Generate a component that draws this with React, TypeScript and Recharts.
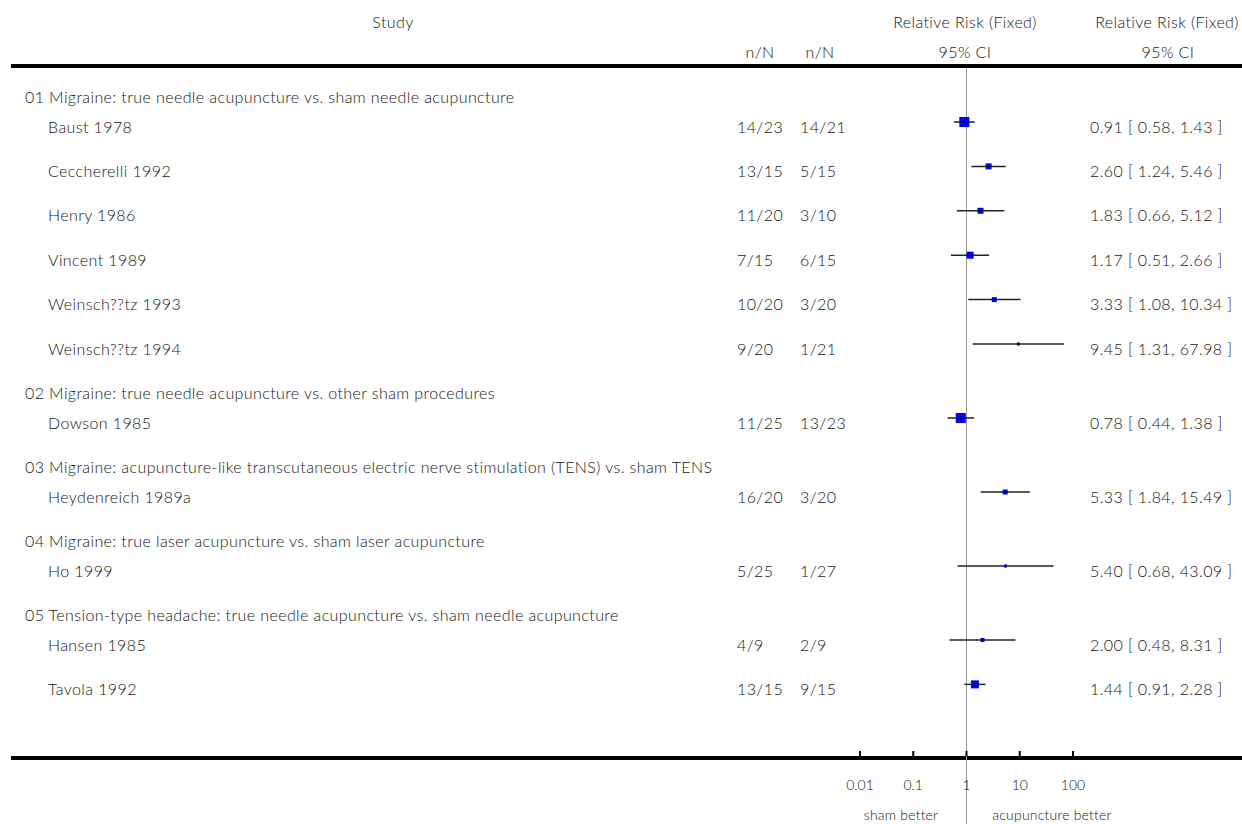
import { ScatterChart, Scatter, XAxis, YAxis, ErrorBar, ReferenceLine } from 'recharts';

const groupTitles = [
  '01 Migraine: true needle acupuncture vs. sham needle acupuncture',
  '02 Migraine: true needle acupuncture vs. other sham procedures',
  '03 Migraine: acupuncture-like transcutaneous electric nerve stimulation (TENS) vs. sham TENS',
  '04 Migraine: true laser acupuncture vs. sham laser acupuncture',
  '05 Tension-type headache: true needle acupuncture vs. sham needle acupuncture',
];

const studyNames = [
  'Baust 1978', 'Ceccherelli 1992', 'Henry 1986', 'Vincent 1989', 'Weinsch??tz 1993', 'Weinsch??tz 1994',
  'Dowson 1985', 'Heydenreich 1989a', 'Ho 1999', 'Hansen 1985', 'Tavola 1992',
];
const studyGroup = [0, 0, 0, 0, 0, 0, 1, 2, 3, 4, 4];
const treatEvents = [14, 13, 11, 7, 10, 9, 11, 16, 5, 4, 13];
const treatTotal = [23, 15, 20, 15, 20, 20, 25, 20, 25, 9, 15];
const shamEvents = [14, 5, 3, 6, 3, 1, 13, 3, 1, 2, 9];
const shamTotal = [21, 15, 10, 15, 20, 21, 23, 20, 27, 9, 15];
const riskRatio = [0.91, 2.6, 1.83, 1.17, 3.33, 9.45, 0.78, 5.33, 5.4, 2.0, 1.44];
const ciLow = [0.58, 1.24, 0.66, 0.51, 1.08, 1.31, 0.44, 1.84, 0.68, 0.48, 0.91];
const ciHigh = [1.43, 5.46, 5.12, 2.66, 10.34, 67.98, 1.38, 15.49, 43.09, 8.31, 2.28];
const weights = [21.3, 7.7, 7.7, 10.4, 5.3, 1.9, 21.3, 5.3, 1.9, 3.4, 13.6];

const axisTicks = [0.01, 0.1, 1, 10, 100];
const axisTickLabels = ['0.01', '0.1', '1', '10', '100'];

const FONT = 'Lato, "Open Sans", sans-serif';
const TEXT = '#151515';

// line layout: header, 2 lines gap to first study, 3 lines between rows
const headerRows: any[] = [];
const studyRows: any[] = [];
let line = 0;
groupTitles.forEach((title, g) => {
  headerRows.push({ x: 1, line, title });
  line += 2;
  studyNames.forEach((name, i) => {
    if (studyGroup[i] !== g) return;
    studyRows.push({
      name,
      line,
      x: riskRatio[i],
      err: [riskRatio[i] - ciLow[i], ciHigh[i] - riskRatio[i]],
      weight: weights[i],
      treat: `${treatEvents[i]}/${treatTotal[i]}`,
      sham: `${shamEvents[i]}/${shamTotal[i]}`,
      label: `${riskRatio[i].toFixed(2)} [ ${ciLow[i].toFixed(2)}, ${ciHigh[i].toFixed(2)} ]`,
    });
    line += 3;
  });
});

const yDomain = [-1.649, 44.84];

const txt = { fontFamily: FONT, fontSize: 16, fontWeight: 300, letterSpacing: 0.4, fill: TEXT };

const StudyShape = (props: any) => {
  const { cx, cy, payload } = props;
  const s = Math.sqrt(payload.weight) * 2.17;
  const ty = cy + 5;
  return (
    <g>
      <text x={48} y={ty} dy="0.35em" {...txt}>{payload.name}</text>
      <text x={737} y={ty} dy="0.35em" {...txt}>{payload.treat}</text>
      <text x={800} y={ty} dy="0.35em" {...txt}>{payload.sham}</text>
      <text x={1090} y={ty} dy="0.35em" {...txt}>{payload.label}</text>
      <rect x={cx - s / 2} y={cy - s / 2} width={s} height={s} fill="#0000ff" />
      <line x1={cx - s / 2} x2={cx + s / 2} y1={cy} y2={cy} stroke="#111" strokeWidth={0.8} />
      <line x1={cx} x2={cx} y1={cy - 1.5} y2={cy + 1.5} stroke="#111" strokeWidth={0.8} />
    </g>
  );
};

const HeaderShape = (props: any) => {
  const { cy, payload } = props;
  return (
    <text x={25} y={cy + 5} dy="0.35em" {...txt}>{payload.title}</text>
  );
};

const AxisTick = (props: any) => {
  const { x, y, payload } = props;
  const label = axisTickLabels[axisTicks.indexOf(payload.value)];
  return (
    <g>
      <line x1={x} x2={x} y1={y - 5} y2={y} stroke="#000" strokeWidth={2} />
      <text x={x} y={y + 34} textAnchor="middle" fontFamily={FONT} fontWeight={300} fontSize={14} fill={TEXT}>{label}</text>
    </g>
  );
};

const abs = (x: number, y: number, text: string, size = 16): any => (
  <div
    style={{
      position: 'absolute', left: x, top: y, transform: 'translate(-50%, -50%)',
      fontFamily: FONT, fontSize: size, fontWeight: 300, letterSpacing: size > 15 ? 0.4 : 0.2,
      color: TEXT, whiteSpace: 'nowrap', lineHeight: 1,
    }}
  >
    {text}
  </div>
);

export default function App() {
  return (
    <div style={{ position: 'relative', width: 1242, height: 824, background: '#fff' }}>
      <style>{'body{margin:0}'}</style>
      {abs(393, 22, 'Study')}
      {abs(965, 22, 'Relative Risk (Fixed)')}
      {abs(1167, 22, 'Relative Risk (Fixed)')}
      {abs(760, 52, 'n/N')}
      {abs(820, 52, 'n/N')}
      {abs(965, 52, '95% CI')}
      {abs(1168, 52, '95% CI')}
      <div style={{ position: 'absolute', left: 11, top: 64, width: 1231, height: 4, background: '#000' }} />
      <div style={{ position: 'absolute', left: 11, top: 756, width: 1231, height: 4, background: '#000' }} />
      {abs(901, 815, 'sham better', 14)}
      {abs(1052, 815, 'acupuncture better', 14)}
      <div style={{ position: 'absolute', left: 0, top: 0 }}>
        <ScatterChart width={1242} height={824} margin={{ top: 68, right: 169, bottom: 0, left: 860 }}>
          <XAxis
            type="number"
            dataKey="x"
            scale="log"
            domain={[0.01, 100]}
            ticks={axisTicks}
            tick={(p: any) => <AxisTick {...p} />}
            tickSize={0}
            tickMargin={0}
            axisLine={false}
            tickLine={false}
            height={68}
          />
          <YAxis type="number" dataKey="line" hide domain={yDomain} reversed />
          <ReferenceLine
            segment={[{ x: 1, y: yDomain[0] }, { x: 1, y: 49.43 }]}
            stroke="#999"
            strokeWidth={1}
            ifOverflow="visible"
          />
          <Scatter data={headerRows} shape={HeaderShape} isAnimationActive={false} />
          <Scatter data={studyRows} shape={StudyShape} isAnimationActive={false}>
            <ErrorBar dataKey="err" direction="x" width={0} stroke="#222" strokeWidth={1.5} />
          </Scatter>
        </ScatterChart>
      </div>
    </div>
  );
}
